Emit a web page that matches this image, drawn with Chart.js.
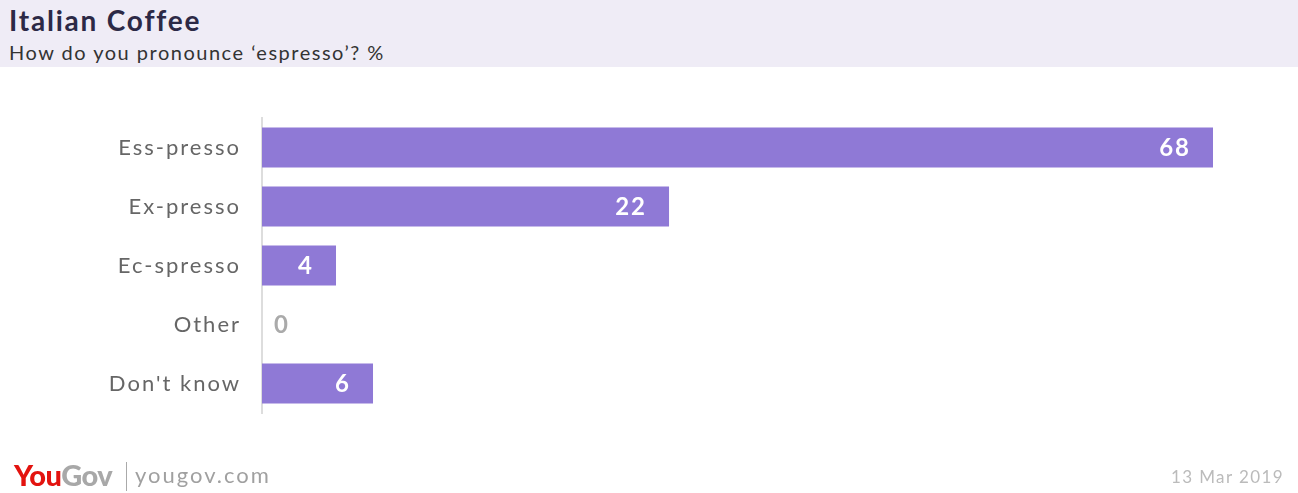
<!DOCTYPE html>
<html>
<head>
<meta charset="utf-8">
<script src="https://cdn.jsdelivr.net/npm/chart.js@4"></script>
<style>
  html, body { margin: 0; padding: 0; background: #fff; }
  body { width: 1298px; height: 493px; position: relative; overflow: hidden; font-family: Lato, "Open Sans", sans-serif; }
  #header { position: absolute; left: 0; top: 0; width: 1298px; height: 67px; background: #efecf6; }
  #title { position: absolute; left: 9px; top: 3px; font-size: 28px; font-weight: bold; color: #2c2946; letter-spacing: 1.8px; }
  #subtitle { position: absolute; left: 9px; top: 40px; font-size: 20px; color: #333; letter-spacing: 1.5px; }
  #wrap { position: absolute; left: 0; top: 0; width: 1298px; height: 493px; }
  #logo { position: absolute; left: 14px; top: 457px; font-size: 29px; font-weight: 900; letter-spacing: -0.5px; }
  #logo .you { color: #e3130f; }
  #logo .gov { color: #a8a8a8; }
  #sep { position: absolute; left: 126px; top: 462px; width: 1px; height: 29px; background: #aaa; }
  #site { position: absolute; left: 135px; top: 461px; font-size: 22px; color: #a0a0a0; letter-spacing: 2px; }
  #date { position: absolute; right: 14px; top: 466px; font-size: 17px; color: #bbb; letter-spacing: 1.4px; }
</style>
</head>
<body>
<div id="header">
  <div id="title">Italian Coffee</div>
  <div id="subtitle">How do you pronounce ‘espresso’? %</div>
</div>
<div id="wrap"><canvas id="myChart"></canvas></div>
<div id="logo"><span class="you">You</span><span class="gov">Gov</span></div>
<div id="sep"></div>
<div id="site">yougov.com</div>
<div id="date">13 Mar 2019</div>

<script>
var categories = ["Ess-presso", "Ex-presso", "Ec-spresso", "Other", "Don't know"];
var values = [68, 22, 4, 0, 6];
// the longest bar runs past the plot edge in the original, so the scale stops short of it
var axisMax = 51.4;

// wider letters for the category labels
const spacing = {
    id: "spacing",
    beforeDraw(chart) {
        chart.ctx.letterSpacing = "2px";
    }
};

// write the numbers at the end of each bar
const barLabels = {
    id: "barLabels",
    afterDatasetsDraw(chart) {
        const ctx = chart.ctx;
        const area = chart.chartArea;
        const meta = chart.getDatasetMeta(0);
        ctx.save();
        ctx.font = "bold 24px Lato, 'Open Sans', sans-serif";
        ctx.letterSpacing = "2px";
        ctx.textBaseline = "middle";
        meta.data.forEach((bar, i) => {
            let v = values[i];
            if (v > 0) {
                ctx.fillStyle = "#ffffff";
                ctx.textAlign = "right";
                ctx.fillText(v, Math.min(bar.x, area.right) - 22, bar.y + 1);
            } else {
                ctx.fillStyle = "#aaaaaa";
                ctx.textAlign = "left";
                ctx.fillText(v, bar.base + 12, bar.y + 1);
            }
        });
        ctx.restore();
    }
};

function drawChart() {
    new Chart("myChart", {
        type: "bar",
        data: {
            labels: categories,
            datasets: [{
                data: values,
                backgroundColor: "#8f79d6",
                borderWidth: 0,
                barPercentage: 0.678,
                categoryPercentage: 1,
                clip: 0
            }]
        },
        options: {
            indexAxis: "y",
            responsive: false,
            animation: false,
            layout: { padding: { top: 118, bottom: 80, left: 0, right: 85 } },
            plugins: {
                legend: { display: false },
                tooltip: { enabled: false }
            },
            scales: {
                x: {
                    display: false,
                    min: 0,
                    max: axisMax
                },
                y: {
                    grid: { display: false, drawTicks: false },
                    border: { color: "#dddddd", width: 2 },
                    ticks: {
                        padding: 21,
                        color: "#666666",
                        font: { family: "Lato, 'Open Sans', sans-serif", size: 22 }
                    },
                    afterFit: function(scale) { scale.width = 262; }
                }
            }
        },
        plugins: [spacing, barLabels]
    });
}

var canvas = document.getElementById("myChart");
canvas.width = 1298;
canvas.height = 493;
drawChart();
</script>
</body>
</html>
